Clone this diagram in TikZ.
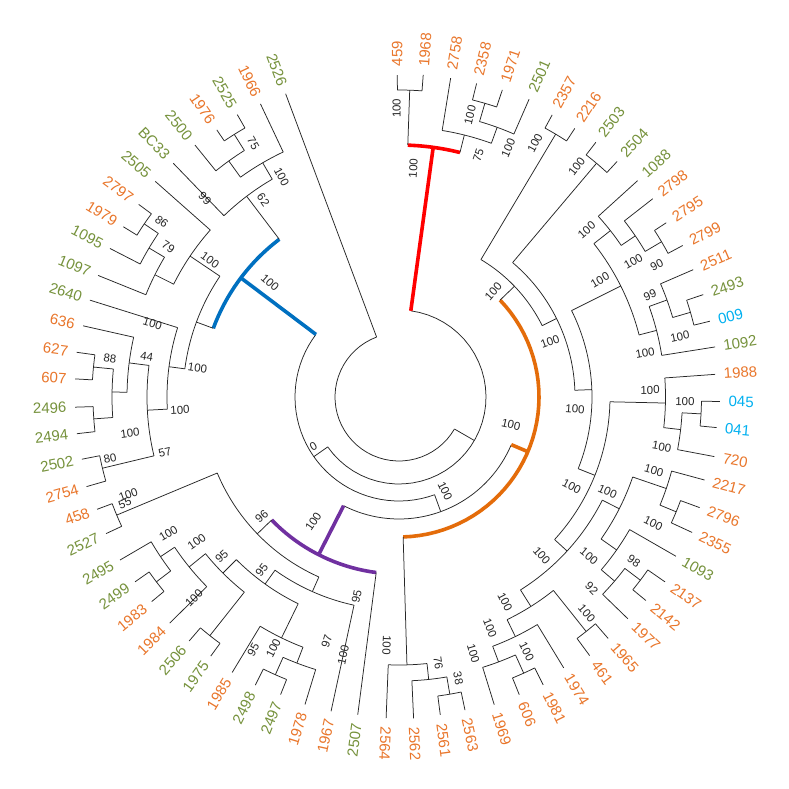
\documentclass[tikz,border=0pt]{standalone}
\usepackage{fontspec}
\setmainfont{Liberation Sans}
\definecolor{lor}{HTML}{E9762B}
\definecolor{lgr}{HTML}{76923C}
\definecolor{lcy}{HTML}{00B0F0}
\definecolor{bred}{HTML}{FF0000}
\definecolor{bblue}{HTML}{0070C0}
\definecolor{borange}{HTML}{E46C0A}
\definecolor{bpurple}{HTML}{7030A0}
\definecolor{brn}{HTML}{262626}
\tikzset{
  br/.style={draw=brn, line width=0.75pt},
  thk/.style={line width=3.6pt},
  lab/.style={font=\fontsize{15}{15}\selectfont, inner sep=1.5pt},
  bsl/.style={font=\fontsize{11.5}{11.5}\selectfont, text=brn, inner sep=0pt}
}
\newcommand\St[3]{\draw[br] (#1:#2) -- (#1:#3);}
\newcommand\Ar[3]{\draw[br] plot[domain=#1:#2,samples=40] (\x:#3);}
\newcommand\Nd[5]{\St{#1}{#2}{#3}\Ar{#4}{#5}{#3}}
\newcommand\LR[5]{\St{#1}{#2}{#3}\node[lab,text=#5,anchor=west,rotate={-(#1)}] (L#4) at (#1:#3+7) {#4};}
\newcommand\LL[5]{\St{#1}{#2}{#3}\node[lab,text=#5,anchor=east,rotate={180-(#1)}] (L#4) at (#1:#3+7) {#4};}
\newcommand\BS[4]{\node[bsl,rotate=#3] at (#1,#2) {#4};}
\begin{document}
\begin{tikzpicture}[x=1pt,y=-1pt]
\fill[white] (0,0) rectangle (789,789);
\useasboundingbox (0,0) rectangle (789,789);
\begin{scope}[shift={(399,397)}]
% root and backbone
\Ar{30}{249.5}{64}
\Nd{30}{64}{87}{-82.2}{145}
% red clade
\draw[thk,bred] (-82.2:87) -- (-82.2:252);
\draw[thk,bred] plot[domain=-88:-76,samples=12] (\x:252);
\Nd{-88}{252}{307}{-90.3}{-85.7}
\Nd{-76}{252}{270}{-80.8}{-70}
\Nd{-70}{270}{287}{-73.7}{-66.4}
\Nd{-73.7}{287}{306}{-76.1}{-71.4}
\LR{-90.3}{307}{322}{459}{lor}
\LR{-85.7}{307}{323}{1968}{lor}
\LR{-80.8}{270}{323}{2758}{lor}
\LR{-76.1}{306}{323}{2358}{lor}
\LR{-71.4}{306}{324}{1971}{lor}
\LR{-66.4}{287}{325}{2501}{lgr}
% B, C
\Nd{145}{87}{104}{70}{217}
\Nd{70}{104}{122}{23}{117}
% orange clade
\draw[thk,borange] (23:122) -- (23:140);
\draw[thk,borange] plot[domain=-43.8:88.3,samples=40] (\x:140);
\Nd{-43.8}{140}{160}{-59.2}{-26.5}
\Nd{-59.2}{160}{306}{-61.5}{-56.8}
\Nd{-26.5}{160}{176}{-49.8}{-2.2}
\Nd{-49.8}{176}{306}{-52.3}{-47.2}
\Nd{-2.2}{176}{193}{-26.6}{21.8}
\Nd{-26.6}{193}{248}{-38.2}{-14.5}
\Nd{-38.2}{248}{269}{-42.2}{-34.3}
\Nd{-34.3}{269}{286}{-38}{-30.6}
\Nd{-30.6}{286}{305}{-33.1}{-28.1}
\Nd{-14.5}{248}{266}{-19.9}{-9}
\Nd{-19.9}{266}{285}{-23.4}{-16.2}
\Nd{-16.2}{285}{303.5}{-18.6}{-13.7}
\Nd{21.8}{193}{211}{1.3}{42.5}
\Nd{1.3}{211}{266.5}{-4.1}{6.6}
\Nd{6.6}{266.5}{283.5}{3.2}{10.7}
\Nd{3.2}{283.5}{302.5}{0.8}{5.5}
\Nd{42.5}{211}{228}{26.9}{57.8}
\Nd{26.9}{228}{247}{18.9}{35.1}
\Nd{18.9}{247}{282.5}{15.2}{22.5}
\Nd{22.5}{282.5}{300}{20.2}{24.8}
\Nd{35.1}{247}{266}{29.9}{40.5}
\Nd{40.5}{266}{283.5}{37.2}{44.1}
\Nd{37.2}{283.5}{303}{34.8}{39.5}
\Nd{57.8}{228}{247.5}{51.4}{64.1}
\Nd{51.4}{247.5}{300}{49.1}{53.6}
\Nd{64.1}{247.5}{266.3}{58.7}{69.4}
\Nd{69.4}{266.3}{283}{65.7}{72.8}
\Nd{65.7}{283}{303}{63.4}{68}
\Nd{88.3}{140}{268}{84}{92.3}
\Nd{84}{268}{284}{80.3}{87.4}
\Nd{80.3}{284}{301.5}{78.1}{82.6}
\LR{-61.5}{306}{321}{2357}{lor}
\LR{-56.8}{306}{321}{2216}{lor}
\LR{-52.3}{306}{322}{2503}{lgr}
\LR{-47.2}{306}{321}{2504}{lgr}
\LR{-42.2}{269}{322}{1088}{lgr}
\LR{-38}{286}{322}{2798}{lor}
\LR{-33.1}{305}{319}{2795}{lor}
\LR{-28.1}{305}{321.6}{2799}{lor}
\LR{-23.4}{285}{320.5}{2511}{lor}
\LR{-18.6}{303.5}{321}{2493}{lgr}
\LR{-13.7}{303.5}{320}{009}{lcy}
\LR{-9}{266}{320}{1092}{lgr}
\LR{-4.1}{266.5}{317}{1988}{lor}
\LR{0.8}{302.5}{321}{045}{lcy}
\LR{5.5}{302.5}{319}{041}{lcy}
\LR{10.7}{283.5}{321}{720}{lor}
\LR{15.2}{282.5}{316.6}{2217}{lor}
\LR{20.2}{300}{320.4}{2796}{lor}
\LR{24.8}{300}{322.9}{2355}{lor}
\LR{29.9}{266}{319.5}{1093}{lgr}
\LR{34.8}{303}{324}{2137}{lor}
\LR{39.5}{303}{320}{2142}{lor}
\LR{44.1}{283.5}{318.7}{1977}{lor}
\LR{49.1}{300}{319.4}{1965}{lor}
\LR{53.6}{300}{321.3}{461}{lor}
\LR{58.7}{266.3}{317}{1974}{lor}
\LR{63.4}{303}{322}{1981}{lor}
\LR{68}{303}{321}{606}{lor}
\LR{72.8}{283}{322}{1969}{lor}
\LR{78.1}{301.5}{320}{2563}{lor}
\LR{82.6}{301.5}{320.6}{2561}{lor}
\LR{87.4}{284}{321.6}{2562}{lor}
\LR{92.3}{268}{321.5}{2564}{lor}
% purple clade
\draw[thk,bpurple] (117:122) -- (117:177);
\draw[thk,bpurple] plot[domain=97.4:136,samples=20] (\x:177);
\Nd{136}{177}{197}{114}{157.3}
\Nd{157.3}{197}{306}{155}{159.6}
\Nd{114}{197}{213}{102.2}{125.6}
\Nd{125.6}{213}{230}{116}{135}
\Nd{116}{230}{268}{111}{121.2}
\Nd{111}{268}{285}{107}{114}
\Nd{114}{285}{304}{111.7}{116.5}
\Nd{135}{230}{249}{128.4}{141}
\Nd{128.4}{249}{304.5}{126}{130.7}
\Nd{141}{249}{270}{135.4}{146.2}
\Nd{146.2}{270}{287}{142.7}{149.7}
\Nd{142.7}{287}{305}{140.4}{145}
\LL{97.4}{177}{320.4}{2507}{lgr}
\LL{102.2}{213}{321.5}{1967}{lor}
\LL{107}{285}{321.5}{1978}{lor}
\LL{111.7}{304}{320.3}{2497}{lgr}
\LL{116.5}{304}{322}{2498}{lgr}
\LL{121.2}{268}{322}{1985}{lor}
\LL{126}{304.5}{320.2}{1975}{lgr}
\LL{130.7}{304.5}{321.8}{2506}{lgr}
\LL{135.4}{270}{322}{1984}{lor}
\LL{140.4}{305}{321}{1983}{lor}
\LL{145}{305}{322.2}{2499}{lgr}
\LL{149.7}{287}{323.1}{2495}{lgr}
\LL{155}{306}{323.2}{2527}{lgr}
\LL{159.6}{306}{322.1}{458}{lor}
% blue clade
\draw[thk,bblue] (217:104) -- (217:198);
\draw[thk,bblue] plot[domain=200.3:232.8,samples=20] (\x:198);
\Nd{200.3}{198}{216}{187.5}{214}
\Nd{187.5}{216}{232}{177}{197.4}
\Nd{177}{232}{252}{166.5}{187.2}
\Nd{187.2}{252}{272}{181}{192.7}
\Nd{181}{272}{287}{175.9}{185.6}
\Nd{185.6}{287}{307}{183.2}{187.9}
\Nd{175.9}{287}{306}{173.5}{178.2}
\Nd{166.5}{252}{305}{164}{168.9}
\Nd{214}{216}{252}{206.6}{221.5}
\Nd{206.6}{252}{273}{202}{210.8}
\Nd{210.8}{273}{291}{207.2}{214.2}
\Nd{214.2}{291}{308}{211.7}{216.5}
\Nd{232.8}{198}{252}{226}{239.8}
\Nd{239.8}{252}{271}{234.2}{244.7}
\Nd{234.2}{271}{291}{231}{237.9}
\Nd{237.9}{291}{310}{235.7}{240.2}
\LL{164}{305}{325}{2754}{lor}
\LL{168.9}{305}{323.2}{2502}{lgr}
\LL{173.5}{306}{324.3}{2494}{lgr}
\LL{178.2}{306}{324.1}{2496}{lgr}
\LL{183.2}{307}{324.4}{607}{lor}
\LL{187.9}{307}{325.5}{627}{lor}
\LL{192.7}{272}{323.8}{636}{lor}
\LL{197.4}{232}{323.9}{2640}{lgr}
\LL{202}{273}{324.5}{1097}{lgr}
\LL{207.2}{291}{325}{1095}{lgr}
\LL{211.7}{308}{324}{1979}{lor}
\LL{216.5}{308}{323.8}{2797}{lor}
\LL{221.5}{252}{325.4}{2505}{lgr}
\LL{226}{252}{324.9}{BC33}{lgr}
\LL{231}{291}{324.2}{2500}{lgr}
\LL{235.7}{310}{323.3}{1976}{lor}
\LL{240.2}{310}{325.4}{2525}{lgr}
\LL{244.7}{271}{324.2}{1966}{lor}
\LL{249.5}{64}{323.8}{2526}{lgr}
\end{scope}
% bootstrap values
\BS{413.3}{168.3}{86.4}{100}
\BS{396.7}{108.3}{90.5}{100}
\BS{478.3}{155}{71.9}{75}
\BS{508.3}{148.3}{66.3}{100}
\BS{470}{115}{75.9}{100}
\BS{535}{143.3}{61.8}{100}
\BS{576.7}{166.7}{52.3}{100}
\BS{493.3}{291.7}{48.2}{100}
\BS{586.7}{230}{41.7}{100}
\BS{633.3}{261.7}{30}{100}
\BS{656.7}{265}{27.1}{90}
\BS{650}{295}{22.1}{99}
\BS{680}{336.7}{12.1}{100}
\BS{645}{353.3}{10.1}{100}
\BS{600}{280}{30.2}{100}
\BS{550}{341.7}{20.1}{100}
\BS{650}{390}{1.2}{100}
\BS{685}{401.7}{-0.9}{100}
\BS{661.7}{446.7}{-10.7}{100}
\BS{575}{409}{-4.2}{100}
\BS{571.7}{486.7}{-27.4}{100}
\BS{541.7}{555.5}{-47.9}{100}
\BS{607.5}{491.7}{-24.3}{100}
\BS{654}{470.5}{-15.9}{100}
\BS{653.3}{523.3}{-26.4}{100}
\BS{634}{561}{-34.9}{98}
\BS{589}{556}{-39.6}{100}
\BS{591.7}{588.3}{-44.8}{92}
\BS{505}{601.7}{-62.6}{100}
\BS{586.7}{613.3}{-49.1}{100}
\BS{490}{628.3}{-68.5}{100}
\BS{526.7}{651.7}{-63.4}{100}
\BS{473.3}{653.3}{-73.8}{100}
\BS{438.3}{663.3}{-81.6}{76}
\BS{458.3}{678.3}{-78.1}{38}
\BS{386.7}{645}{-92.8}{100}
\BS{511}{424.5}{-13.1}{100}
\BS{445}{491}{-64.1}{100}
\BS{313.3}{446.7}{30.1}{0}
\BS{313.3}{521.7}{55.5}{100}
\BS{261.7}{516.7}{41.1}{96}
\BS{128.3}{495}{19.9}{100}
\BS{125}{503.3}{21.2}{55}
\BS{356.7}{596.7}{78}{95}
\BS{261.7}{570}{51.6}{95}
\BS{221.7}{556.7}{42}{95}
\BS{196.7}{541.7}{35.6}{100}
\BS{168.3}{533.3}{30.6}{100}
\BS{194}{598.3}{44.6}{100}
\BS{253.3}{650}{60.1}{95}
\BS{273.3}{648.3}{63.4}{100}
\BS{326.7}{641.7}{73.5}{97}
\BS{343.3}{655}{77.8}{100}
\BS{270}{282.5}{-41.4}{100}
\BS{197.5}{368.3}{-8.1}{100}
\BS{152.5}{323.3}{-16.7}{100}
\BS{180}{410}{3.4}{100}
\BS{146.7}{356.7}{-9.1}{44}
\BS{110}{358.3}{-7.6}{88}
\BS{130}{433.3}{7.6}{100}
\BS{165}{452.5}{13.5}{57}
\BS{110}{458.3}{12}{80}
\BS{210}{260}{-36}{100}
\BS{161.7}{221.7}{-36.5}{86}
\BS{168.3}{246.7}{-33.1}{79}
\BS{263.3}{200}{-55.4}{62}
\BS{205}{198.3}{-45.9}{99}
\BS{253.3}{143.3}{-60.1}{75}
\BS{281.7}{176.7}{-62}{100}
\end{tikzpicture}
\end{document}
